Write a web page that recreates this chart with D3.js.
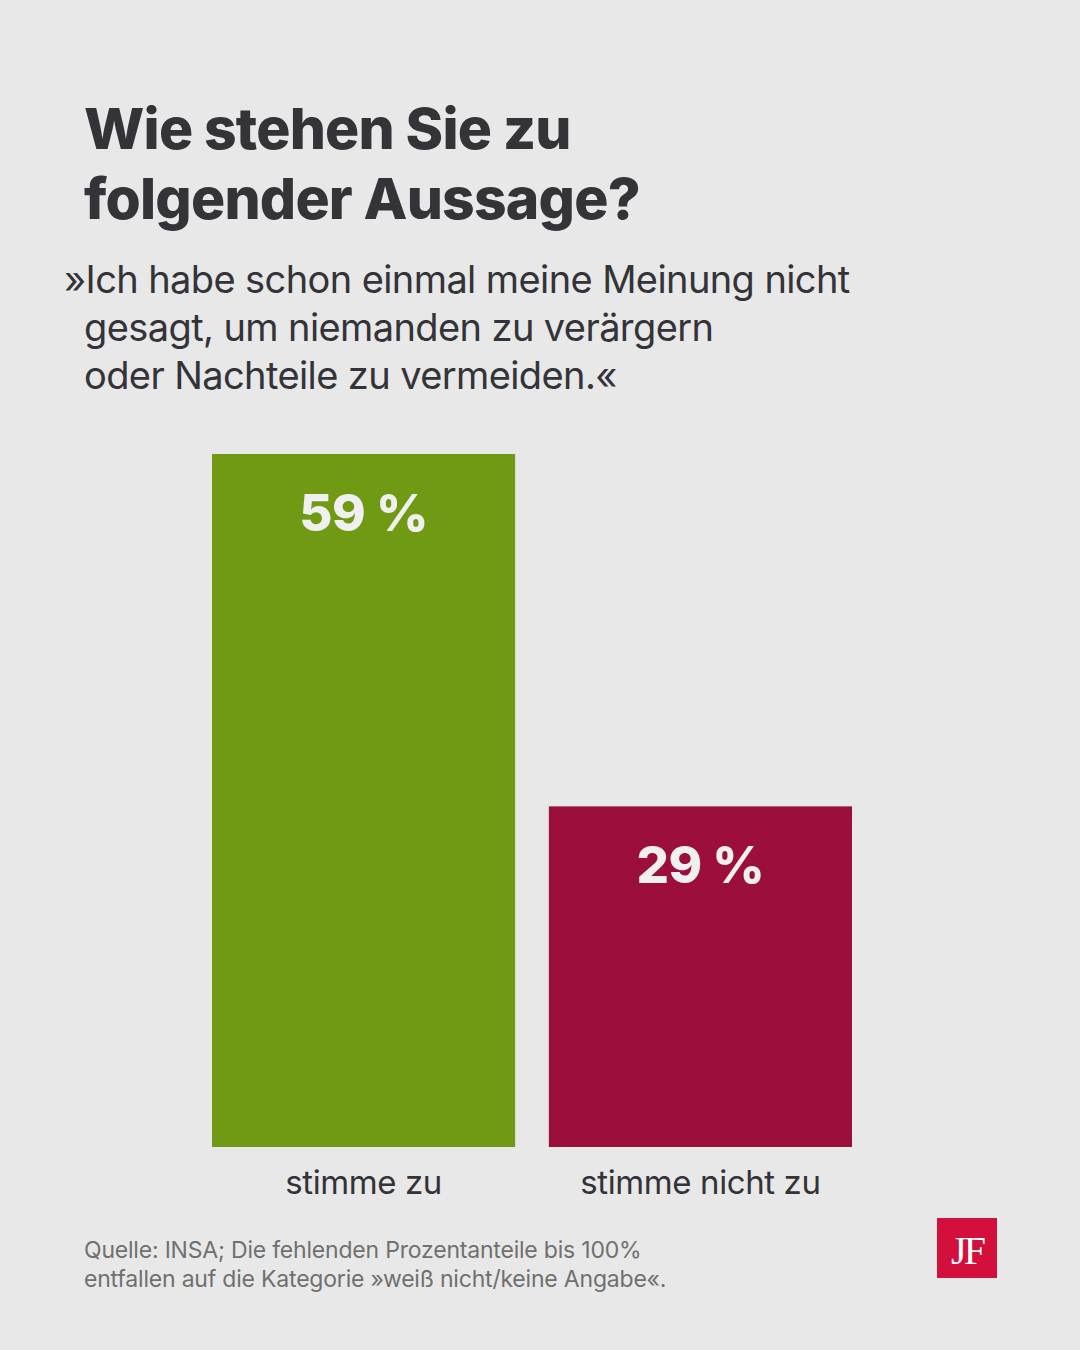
<!DOCTYPE html>
<html><head><meta charset="utf-8">
<script src="https://cdn.jsdelivr.net/npm/d3@7"></script>
<style>body{margin:0;background:#e8e8e8}svg{display:block}</style>
</head><body>
<script>
const categories = ["stimme zu", "stimme nicht zu"];
const values = [59, 29];
const colors = ["#709a14", "#9b0f3a"];
const titleLines = ["Wie stehen Sie zu", "folgender Aussage?"];
const subtitleLines = ["»Ich habe schon einmal meine Meinung nicht", "gesagt, um niemanden zu verärgern", "oder Nachteile zu vermeiden.«"];
const sourceLines = ["Quelle: INSA; Die fehlenden Prozentanteile bis 100%", "entfallen auf die Kategorie »weiß nicht/keine Angabe«."];

const svg = d3.select("body").append("svg").attr("width",1080).attr("height",1350);
svg.append("rect").attr("width",1080).attr("height",1350).attr("fill","#e8e8e8");
const font = "Inter, 'Open Sans', sans-serif";
const ink = "#333338";

svg.selectAll(".t").data(titleLines).join("text")
  .attr("x",84).attr("y",(d,i)=>149+i*70).text(d=>d)
  .attr("font-family",font).attr("font-weight",800).attr("font-size",57).attr("letter-spacing",-0.8).attr("fill",ink);
svg.selectAll(".s").data(subtitleLines).join("text")
  .attr("x",(d,i)=>i===0?64:84).attr("y",(d,i)=>293+i*48).text(d=>d)
  .attr("font-family",font).attr("font-size",38).attr("letter-spacing",-0.6).attr("fill",ink);

const x = d3.scaleBand().domain(categories).range([212,852]).paddingInner(0.1).paddingOuter(0);
const y = d3.scaleLinear().domain([0,59]).range([1147,454]);

svg.selectAll(".bar").data(values).join("rect")
  .attr("x",(d,i)=>x(categories[i])).attr("width",x.bandwidth())
  .attr("y",d=>y(d)).attr("height",d=>y(0)-y(d)).attr("fill",(d,i)=>colors[i]);
svg.selectAll(".val").data(values).join("text")
  .attr("x",(d,i)=>x(categories[i])+x.bandwidth()/2).attr("y",d=>y(d)+77)
  .attr("text-anchor","middle").text(d=>d+" %")
  .attr("font-family",font).attr("font-weight",800).attr("font-size",51).attr("letter-spacing",-0.5).attr("fill","#f0f0f0");
svg.selectAll(".cat").data(categories).join("text")
  .attr("x",d=>x(d)+x.bandwidth()/2).attr("y",1194).attr("text-anchor","middle").text(d=>d)
  .attr("font-family",font).attr("font-size",33).attr("letter-spacing",-0.4).attr("fill",ink);

svg.selectAll(".src").data(sourceLines).join("text")
  .attr("x",84).attr("y",(d,i)=>1258+i*29).text(d=>d)
  .attr("font-family",font).attr("font-size",23).attr("letter-spacing",-0.2).attr("fill","#707070");

svg.append("rect").attr("x",937).attr("y",1218).attr("width",60).attr("height",60).attr("fill","#d30f3c");
svg.append("text").attr("x",967).attr("y",1264).attr("text-anchor","middle").text("JF")
  .attr("font-family","'Liberation Serif', serif").attr("font-size",40).attr("letter-spacing",-3).attr("fill","#fff");
</script>
</body></html>
